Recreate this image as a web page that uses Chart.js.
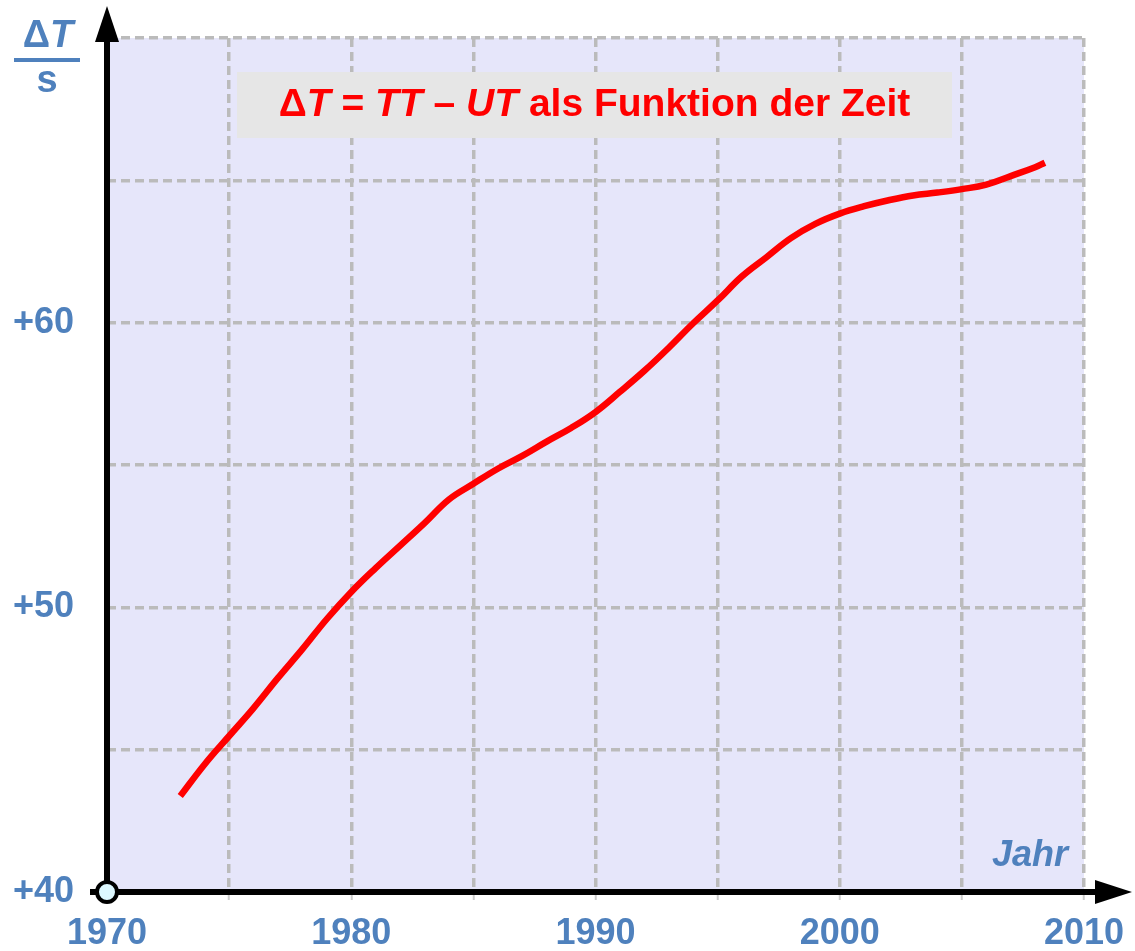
<!DOCTYPE html>
<html>
<head>
<meta charset="utf-8">
<script src="https://cdn.jsdelivr.net/npm/chart.js@4.4.1/dist/chart.umd.min.js"></script>
<style>
  html, body { margin: 0; padding: 0; background: #ffffff; }
  #wrap { width: 1135px; height: 951px; }
</style>
</head>
<body>
<div id="wrap"><canvas id="deltaTChart" width="1135" height="951"></canvas></div>
<script>
// Data (Delta T in seconds, start of year)
const years = [1973, 1974, 1975, 1976, 1977, 1978, 1979, 1980, 1981, 1982,
    1983, 1984, 1985, 1986, 1987, 1988, 1989, 1990, 1991, 1992,
    1993, 1994, 1995, 1996, 1997, 1998, 1999, 2000, 2001, 2002,
    2003, 2004, 2005, 2006, 2007, 2008, 2008.4];
const deltaT = [43.37, 44.49, 45.48, 46.46, 47.52, 48.53, 49.59, 50.54, 51.38, 52.17,
    52.96, 53.79, 54.34, 54.87, 55.32, 55.82, 56.30, 56.86, 57.57, 58.31,
    59.12, 59.98, 60.78, 61.63, 62.30, 62.97, 63.47, 63.83, 64.09, 64.30,
    64.47, 64.57, 64.69, 64.85, 65.15, 65.46, 65.62];

// Labelled ticks (grid every 5)
const xTickLabels = [1970, 1980, 1990, 2000, 2010];
const yTickLabels = [40, 50, 60];

const axisBlue = '#4f81bd';
const gridGrey = '#bbbbbb';

// Background, title box, axes with arrows, and the extra texts
const decorations = {
    id: 'decorations',
    beforeDraw(chart) {
        const { ctx, chartArea: a } = chart;
        ctx.save();
        ctx.fillStyle = '#e6e6fa';
        ctx.fillRect(a.left, a.top, a.right - a.left, a.bottom - a.top);
        ctx.restore();
    },
    beforeDatasetsDraw(chart) {
        const { ctx } = chart;
        ctx.save();
        // title box
        ctx.fillStyle = '#e6e6e6';
        ctx.fillRect(237, 72, 715, 66);

        // title with italic T's
        const parts = [
            ['Δ', false], ['T', true], [' = ', false], ['TT', true],
            [' – ', false], ['UT', true], [' als Funktion der Zeit', false]
        ];
        const size = 39;
        const fontOf = it => (it ? 'italic ' : '') + 'bold ' + size + 'px "Liberation Sans", Arial, sans-serif';
        let total = 0;
        parts.forEach(p => { ctx.font = fontOf(p[1]); total += ctx.measureText(p[0]).width; });
        let x = 237 + 715 / 2 - total / 2;
        ctx.fillStyle = '#ff0000';
        ctx.textBaseline = 'middle';
        ctx.textAlign = 'left';
        parts.forEach(p => {
            ctx.font = fontOf(p[1]);
            ctx.fillText(p[0], x, 105);
            x += ctx.measureText(p[0]).width;
        });
        ctx.restore();
    },
    afterDraw(chart) {
        const { ctx, chartArea: a } = chart;
        ctx.save();
        ctx.strokeStyle = '#000';
        ctx.fillStyle = '#000';
        ctx.lineWidth = 6;

        // y axis + arrow
        ctx.beginPath();
        ctx.moveTo(a.left, a.bottom);
        ctx.lineTo(a.left, 36);
        ctx.stroke();
        ctx.beginPath();
        ctx.moveTo(a.left, 6);
        ctx.lineTo(a.left - 12, 42);
        ctx.lineTo(a.left + 12, 42);
        ctx.closePath();
        ctx.fill();

        // x axis + arrow
        ctx.beginPath();
        ctx.moveTo(90, a.bottom);
        ctx.lineTo(1098, a.bottom);
        ctx.stroke();
        ctx.beginPath();
        ctx.moveTo(1132, a.bottom);
        ctx.lineTo(1095, a.bottom - 12);
        ctx.lineTo(1095, a.bottom + 12);
        ctx.closePath();
        ctx.fill();

        // origin circle
        ctx.beginPath();
        ctx.arc(a.left, a.bottom, 10, 0, Math.PI * 2);
        ctx.fillStyle = '#ddf8ff';
        ctx.fill();
        ctx.lineWidth = 4;
        ctx.stroke();

        // y unit label  ΔT / s
        ctx.fillStyle = axisBlue;
        ctx.textBaseline = 'alphabetic';
        ctx.font = 'bold 38px "Liberation Sans", Arial, sans-serif';
        const dW = ctx.measureText('Δ').width;
        ctx.font = 'italic bold 38px "Liberation Sans", Arial, sans-serif';
        const tW = ctx.measureText('T').width;
        let ux = 48 - (dW + tW) / 2;
        ctx.font = 'bold 38px "Liberation Sans", Arial, sans-serif';
        ctx.textAlign = 'left';
        ctx.fillText('Δ', ux, 47);
        ctx.font = 'italic bold 38px "Liberation Sans", Arial, sans-serif';
        ctx.fillText('T', ux + dW, 47);
        ctx.fillRect(14, 58, 66, 4);
        ctx.font = 'bold 38px "Liberation Sans", Arial, sans-serif';
        ctx.textAlign = 'center';
        ctx.fillText('s', 47, 92);

        // axis name
        ctx.font = 'italic bold 36px "Liberation Sans", Arial, sans-serif';
        ctx.textAlign = 'right';
        ctx.fillText('Jahr', 1068, 866);
        ctx.restore();
    }
};

function initializeDeltaTChart() {
    const ctx = document.getElementById('deltaTChart').getContext('2d');
    return new Chart(ctx, {
        type: 'line',
        data: {
            datasets: [{
                label: 'ΔT',
                data: years.map((y, i) => ({ x: y, y: deltaT[i] })),
                borderColor: '#ff0000',
                borderWidth: 6.5,
                pointRadius: 0,
                tension: 0.4,
                fill: false
            }]
        },
        options: {
            responsive: false,
            animation: false,
            layout: {
                padding: { top: 38, right: 51, left: 0, bottom: 0 }
            },
            plugins: {
                legend: { display: false },
                tooltip: { enabled: false },
                title: { display: false }
            },
            scales: {
                x: {
                    type: 'linear',
                    min: 1970,
                    max: 2010,
                    afterFit(scale) {
                        scale.height = 59;
                        scale.paddingLeft = 0;
                        scale.paddingRight = 0;
                    },
                    ticks: {
                        stepSize: 5,
                        autoSkip: false,
                        maxRotation: 0,
                        padding: 12,
                        color: axisBlue,
                        font: { family: '"Liberation Sans", Arial, sans-serif', size: 36, weight: 'bold' },
                        callback: v => xTickLabels.includes(v) ? String(v) : ''
                    },
                    grid: {
                        color: gridGrey,
                        lineWidth: 3.5,
                        drawTicks: true,
                        tickLength: 8,
                        tickColor: '#cccccc',
                        tickWidth: 2
                    },
                    border: { display: false, dash: [9, 5] }
                },
                y: {
                    min: 40,
                    max: 70,
                    afterFit(scale) {
                        scale.width = 107;
                        scale.paddingTop = 0;
                        scale.paddingBottom = 0;
                    },
                    ticks: {
                        stepSize: 5,
                        autoSkip: false,
                        padding: 33,
                        color: axisBlue,
                        font: { family: '"Liberation Sans", Arial, sans-serif', size: 36, weight: 'bold' },
                        callback: v => yTickLabels.includes(v) ? '+' + v : ''
                    },
                    grid: {
                        color: gridGrey,
                        lineWidth: 3.5,
                        drawTicks: false
                    },
                    border: { display: false, dash: [9, 5] }
                }
            }
        },
        plugins: [decorations]
    });
}

document.addEventListener('DOMContentLoaded', function() {
    initializeDeltaTChart();
});
</script>
</body>
</html>
